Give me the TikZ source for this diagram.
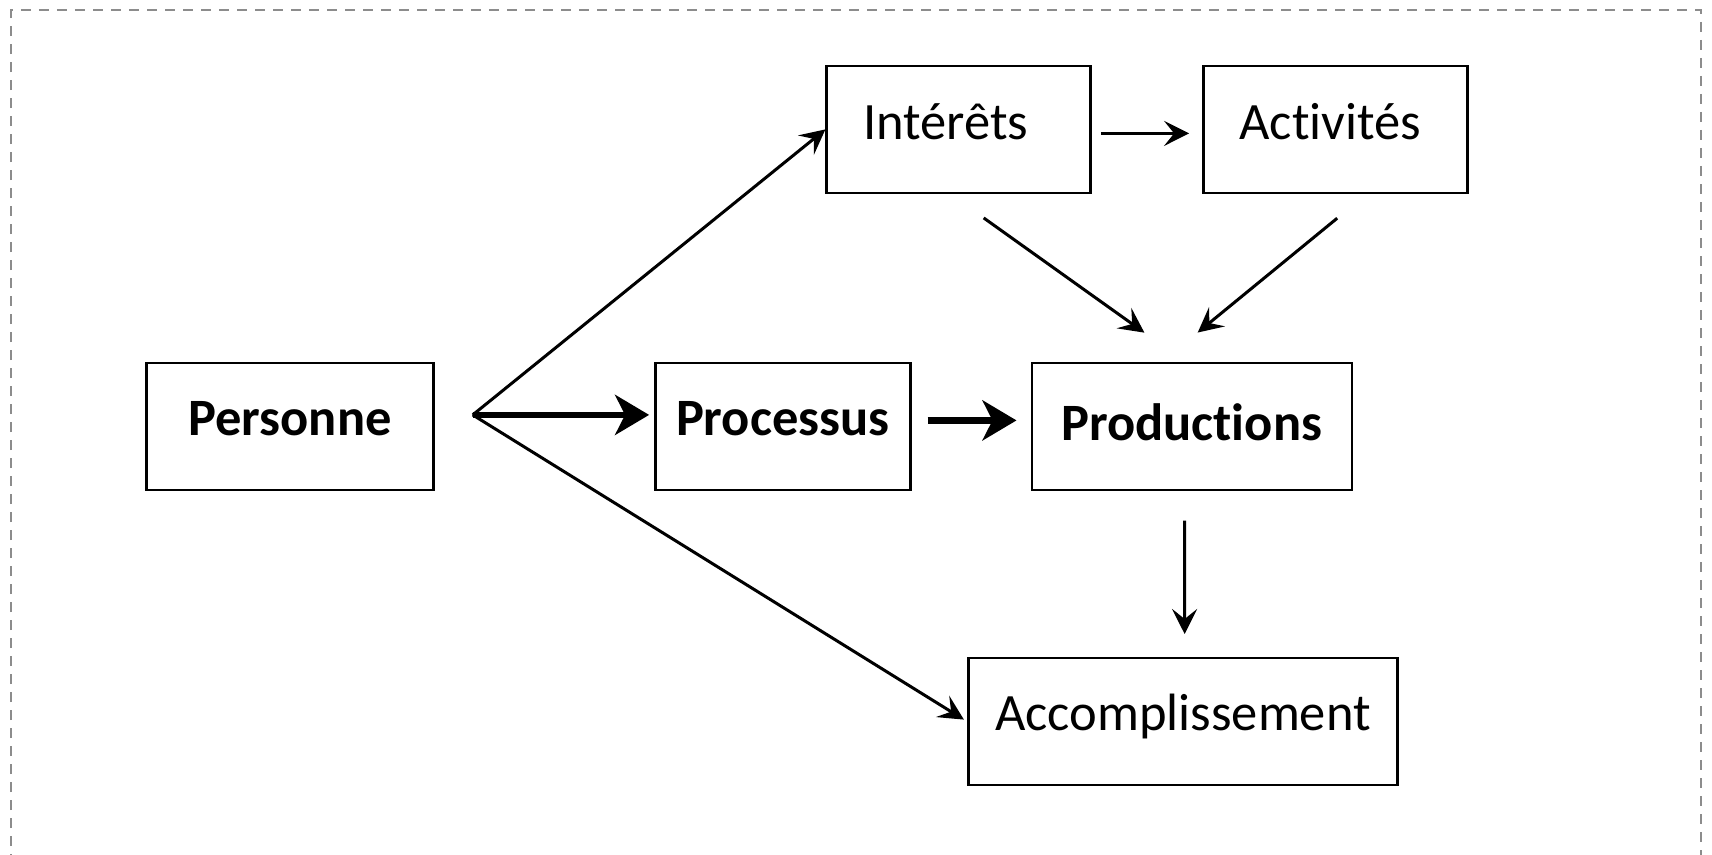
\documentclass[tikz,border=0pt]{standalone}
\usepackage{fontspec}
\setmainfont{Carlito}[Ligatures=CommonOff]
\usetikzlibrary{arrows.meta}
\begin{document}
\begin{tikzpicture}[x=1pt,y=-1pt,
  box/.style={draw=black, line width=2.4pt, rectangle, inner sep=0pt, minimum height=127pt,
    font=\fontsize{52.5pt}{63pt}\selectfont, text height=34pt, text depth=16pt},
  boldbox/.style={box, font=\fontsize{52.5pt}{63pt}\selectfont\bfseries},
  thinarrow/.style={line width=3pt, -{Stealth[length=25pt,width=25pt,inset=10pt]}},
  thickarrow/.style={line width=6.5pt, -{Stealth[length=34pt,width=40pt,inset=10pt]}},
]
\useasboundingbox (0,0) rectangle (1712,854);
\clip (0,0) rectangle (1712,854);
\draw[black!45, line width=2pt, dash pattern=on 9.6pt off 8.4pt] (11,900) -- (11,10) -- (1701,10) -- (1701,900);

\node[boldbox, minimum width=287pt, text depth=15.4pt] (pers) at (289.9,426.4) {Personne};
\node[boldbox, minimum width=255pt, text depth=16.8pt] (proc) at (782.8,426.4) {Processus};
\node[boldbox, minimum width=320pt, text depth=6.8pt] (prod) at (1191.7,426.4) {Productions};
\node[box, minimum width=264pt, text depth=14.2pt] (int) at (958.6,129.4) {Intérêts\kern25.6pt};
\node[box, minimum width=264pt, text depth=14.2pt] (act) at (1335.3,129.4) {Activités\kern10pt};
\node[box, minimum width=429pt, text depth=16pt] (acc) at (1183,721.7) {Accomplissement};

\coordinate (fork) at (472.7,414.9);
\draw[thinarrow] (fork) -- (int.west);
\draw[thickarrow, shorten >=5pt] (fork) -- (fork -| proc.west);
\draw[thinarrow, shorten >=4pt] (fork) -- (acc.west);
\draw[thickarrow, shorten <=16pt, shorten >=14pt] ([yshift=6pt]proc.east) -- ([yshift=6pt]prod.west);
\draw[thinarrow, shorten <=9pt, shorten >=13pt] ([yshift=-4pt]int.east) -- ([yshift=-4pt]act.west);
\draw[thinarrow, shorten <=41pt, shorten >=50pt] ([xshift=-8.3pt]int.south) -- ([xshift=-6.6pt]prod.north);
\draw[thinarrow, shorten <=38pt, shorten >=46pt] ([xshift=31.3pt]act.south) -- ([xshift=-29.6pt]prod.north);
\draw[thinarrow, shorten <=29.5pt, shorten >=23pt] ([xshift=-7pt]prod.south) -- ([xshift=1.6pt]acc.north);
\end{tikzpicture}
\end{document}
